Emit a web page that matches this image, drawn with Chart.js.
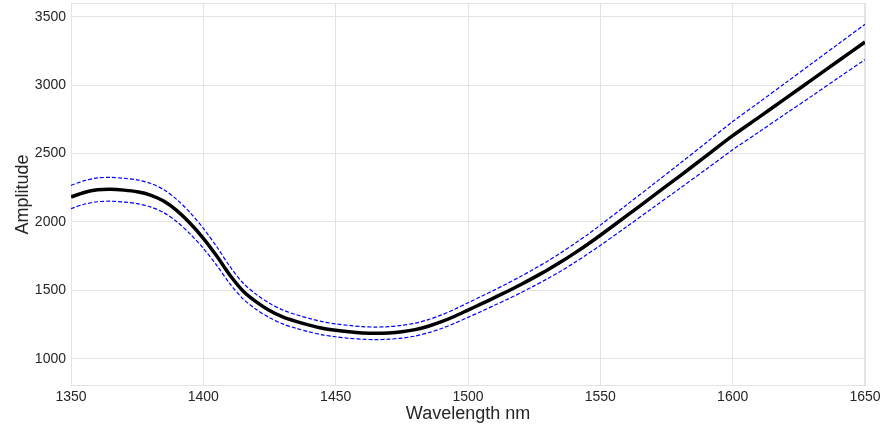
<!DOCTYPE html>
<html>
<head>
<meta charset="utf-8">
<title>Amplitude vs wavelength</title>
<script src="https://cdn.jsdelivr.net/npm/chart.js@4.4.1/dist/chart.umd.min.js"></script>
<style>
  html, body { margin: 0; padding: 0; background: #fff; }
  #wrap { width: 884px; height: 428px; }
</style>
</head>
<body>
<div id="wrap"><canvas id="ampChart" width="884" height="428"></canvas></div>
<script>
// --- DATA ---
const wavelengths = [1350, 1355, 1360, 1365, 1370, 1375, 1380, 1385, 1390, 1395,
  1400, 1405, 1410, 1415, 1420, 1425, 1430, 1435, 1440, 1445,
  1450, 1455, 1460, 1465, 1470, 1475, 1480, 1485, 1490, 1495,
  1500, 1505, 1510, 1515, 1520, 1525, 1530, 1535, 1540, 1545,
  1550, 1560, 1570, 1580, 1590, 1600, 1610, 1620, 1630, 1640, 1650];

const amplitude = [2182, 2215, 2234, 2238, 2232, 2220, 2196, 2152, 2082, 1990,
  1880, 1752, 1612, 1495, 1415, 1352, 1305, 1272, 1245, 1222,
  1207, 1196, 1188, 1185, 1188, 1197, 1212, 1237, 1270, 1310,
  1355, 1400, 1446, 1493, 1542, 1594, 1648, 1706, 1768, 1833,
  1902, 2045, 2190, 2335, 2482, 2630, 2766, 2903, 3040, 3178, 3315];

const upperBound = [2267, 2301, 2321, 2325, 2319, 2307, 2282, 2236, 2163, 2068,
  1953, 1820, 1675, 1553, 1470, 1405, 1356, 1322, 1294, 1270,
  1254, 1243, 1234, 1231, 1234, 1244, 1259, 1285, 1320, 1361,
  1408, 1455, 1502, 1551, 1602, 1656, 1712, 1773, 1837, 1904,
  1976, 2125, 2275, 2426, 2579, 2733, 2874, 3016, 3159, 3302, 3444];

const lowerBound = [2097, 2129, 2147, 2151, 2145, 2133, 2110, 2068, 2001, 1912,
  1807, 1684, 1549, 1437, 1360, 1299, 1254, 1222, 1196, 1174,
  1160, 1149, 1142, 1139, 1142, 1150, 1165, 1189, 1220, 1259,
  1302, 1345, 1390, 1435, 1482, 1532, 1584, 1639, 1699, 1762,
  1828, 1965, 2105, 2244, 2385, 2527, 2658, 2790, 2921, 3054, 3186];

const xTicks = [1350, 1400, 1450, 1500, 1550, 1600, 1650];
const yTicks = [1000, 1500, 2000, 2500, 3000, 3500];

function toPoints(values) {
  return wavelengths.map((w, i) => ({ x: w, y: values[i] }));
}

// frame around the plot area
const frame = {
  id: 'frame',
  beforeDatasetsDraw(chart) {
    const a = chart.chartArea;
    const ctx = chart.ctx;
    ctx.save();
    ctx.strokeStyle = '#e3e3e3';
    ctx.lineWidth = 1;
    ctx.strokeRect(a.left + 0.5, a.top + 0.5, a.right - a.left - 1, a.bottom - a.top - 1);
    ctx.restore();
  }
};

const tickFont = { family: "'Liberation Sans', Arial, sans-serif", size: 14 };
const titleFont = { family: "'Liberation Sans', Arial, sans-serif", size: 18 };
const plain = v => String(v);

new Chart(document.getElementById('ampChart'), {
  type: 'line',
  data: {
    datasets: [
      {
        label: 'Amplitude',
        data: toPoints(amplitude),
        borderColor: '#000000',
        borderWidth: 3.5,
        pointRadius: 0,
        tension: 0.3,
        fill: false
      },
      {
        label: 'Upper',
        data: toPoints(upperBound),
        borderColor: '#0000ff',
        borderWidth: 1.2,
        borderDash: [4, 2],
        pointRadius: 0,
        tension: 0.3,
        fill: false
      },
      {
        label: 'Lower',
        data: toPoints(lowerBound),
        borderColor: '#0000ff',
        borderWidth: 1.2,
        borderDash: [4, 2],
        pointRadius: 0,
        tension: 0.3,
        fill: false
      }
    ]
  },
  options: {
    responsive: false,
    animation: false,
    layout: { padding: { top: 3, right: 19, left: 0, bottom: 0 } },
    plugins: {
      legend: { display: false },
      tooltip: { enabled: false }
    },
    scales: {
      x: {
        type: 'linear',
        min: 1350,
        max: 1650,
        afterBuildTicks: axis => { axis.ticks = xTicks.map(v => ({ value: v })); },
        afterFit: axis => { axis.height = 42; axis.paddingLeft = 0; axis.paddingRight = 0; },
        ticks: { color: '#262626', font: tickFont, padding: 3, maxRotation: 0, callback: plain },
        grid: { color: '#e3e3e3', drawTicks: false },
        border: { display: false },
        title: {
          display: true,
          text: 'Wavelength nm',
          color: '#262626',
          font: titleFont,
          padding: { top: 0, bottom: 3 }
        }
      },
      y: {
        type: 'linear',
        min: 800,
        max: 3600,
        afterBuildTicks: axis => { axis.ticks = yTicks.map(v => ({ value: v })); },
        afterFit: axis => { axis.width = 71; axis.paddingTop = 0; axis.paddingBottom = 0; },
        ticks: { color: '#262626', font: tickFont, padding: 5, callback: plain },
        grid: { color: '#e3e3e3', drawTicks: false },
        border: { display: false },
        title: {
          display: true,
          text: 'Amplitude',
          color: '#262626',
          font: titleFont,
          padding: { top: 12, bottom: 0 }
        }
      }
    }
  },
  plugins: [frame]
});
</script>
</body>
</html>
